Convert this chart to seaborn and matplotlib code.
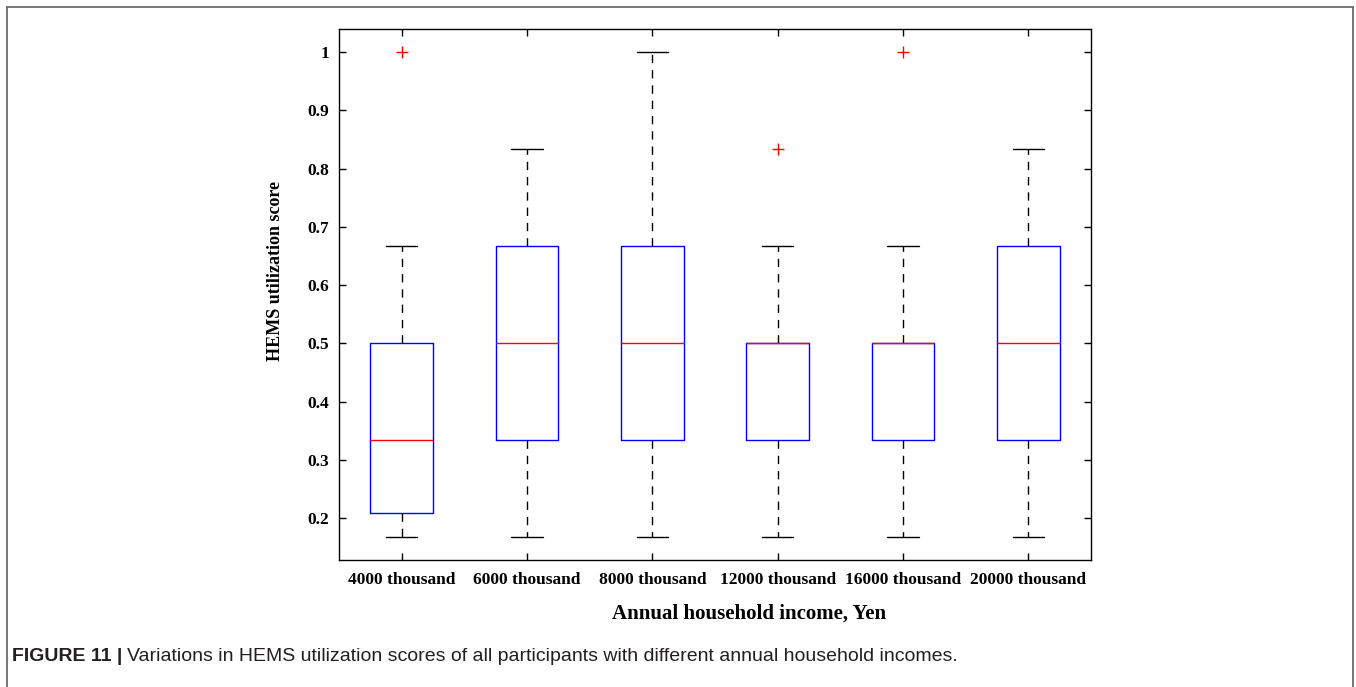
import matplotlib
matplotlib.use("Agg")
import matplotlib.pyplot as plt
import seaborn as sns
import pandas as pd
from matplotlib.lines import Line2D

# ---- data (HEMS utilization scores, in sixths) ----
categories = ["4000 thousand", "6000 thousand", "8000 thousand",
              "12000 thousand", "16000 thousand", "20000 thousand"]
scores_4000 = [1, 1, 1, 2, 2, 2, 3, 3, 4, 6]
scores_6000 = [1, 2, 2, 3, 3, 4, 4, 5, 5]
scores_8000 = [1, 2, 2, 3, 3, 4, 4, 5, 6]
scores_12000 = [1, 2, 2, 3, 3, 3, 3, 4, 5]
scores_16000 = [1, 2, 2, 3, 3, 3, 3, 4, 6]
scores_20000 = [1, 2, 2, 3, 3, 4, 4, 5, 5]
y_ticks = [0.2, 0.3, 0.4, 0.5, 0.6, 0.7, 0.8, 0.9, 1.0]
y_tick_labels = ["0.2", "0.3", "0.4", "0.5", "0.6", "0.7", "0.8", "0.9", "1"]

groups = [scores_4000, scores_6000, scores_8000, scores_12000, scores_16000, scores_20000]
rows = []
for cat, vals in zip(categories, groups):
    for v in vals:
        rows.append({"income": cat, "score": v / 6.0})
df = pd.DataFrame(rows)

sns.set_theme(style="white")
plt.rcParams["font.family"] = ["Liberation Serif", "DejaVu Serif"]
plt.rcParams["text.color"] = "black"
plt.rcParams["axes.labelcolor"] = "black"
plt.rcParams["xtick.color"] = "black"
plt.rcParams["ytick.color"] = "black"

W, H = 1356, 687
fig = plt.figure(figsize=(W / 100, H / 100), dpi=100)
ax = fig.add_axes([339 / W, 1 - 560 / H, (1091 - 339) / W, (560 - 29) / H])

sns.boxplot(
    data=df, x="income", y="score", order=categories, ax=ax,
    width=0.5, fill=False, color="blue", linewidth=1.0, whis=1.5,
    boxprops={"color": "blue"},
    medianprops={"color": "red", "linewidth": 1.0},
    whiskerprops={"color": "black", "linestyle": (0, (6, 5)), "linewidth": 1.0},
    capprops={"color": "black", "linewidth": 1.0},
    flierprops={"marker": "+", "markeredgecolor": "red", "color": "red",
                "markersize": 8, "markeredgewidth": 1.0},
)

ax.set_ylim(0.128, 1.0395)
ax.set_xlim(-0.5, 5.5)
ax.set_yticks(y_ticks)
ax.set_yticklabels(y_tick_labels, fontweight="bold", fontsize=12.5)
ax.set_xticks(range(len(categories)))
ax.set_xticklabels(categories, fontweight="bold", fontsize=12.5)
ax.tick_params(axis="both", direction="in", length=5, width=1, color="black",
               labelcolor="black", top=True, right=True, bottom=True, left=True)
ax.tick_params(axis="x", pad=9)
ax.tick_params(axis="y", pad=7)
for s in ax.spines.values():
    s.set_visible(True)
    s.set_color("black")
    s.set_linewidth(1.0)

ax.set_xlabel("Annual household income, Yen", fontsize=15, fontweight="bold")
ax.set_ylabel("HEMS utilization score", fontsize=13, fontweight="bold")
ax.xaxis.set_label_coords(0.545, -0.082)
ax.yaxis.set_label_coords(-0.073, 0.545)

# figure frame (open at bottom)
gray = "#6b6b6b"
x0, x1, yt = 7 / W, 1353 / W, 1 - 7 / H
fig.add_artist(Line2D([x0, x1], [yt, yt], transform=fig.transFigure, color=gray, lw=1.3))
fig.add_artist(Line2D([x0, x0], [yt, 0], transform=fig.transFigure, color=gray, lw=1.3))
fig.add_artist(Line2D([x1, x1], [yt, 0], transform=fig.transFigure, color=gray, lw=1.3))

# caption
cap_y = 1 - 661 / H
t1 = fig.text(12 / W, cap_y, "FIGURE 11 |", fontsize=14, fontweight="bold",
              family=["Liberation Sans", "DejaVu Sans"], va="baseline", color="#231f20")
fig.canvas.draw()
bb = t1.get_window_extent(renderer=fig.canvas.get_renderer())
fig.text(bb.x1 / W + 5 / W, cap_y,
         "Variations in HEMS utilization scores of all participants with different annual household incomes.",
         fontsize=14, family=["Liberation Sans", "DejaVu Sans"], va="baseline", color="#231f20")

fig.savefig("out.png", dpi=100)
